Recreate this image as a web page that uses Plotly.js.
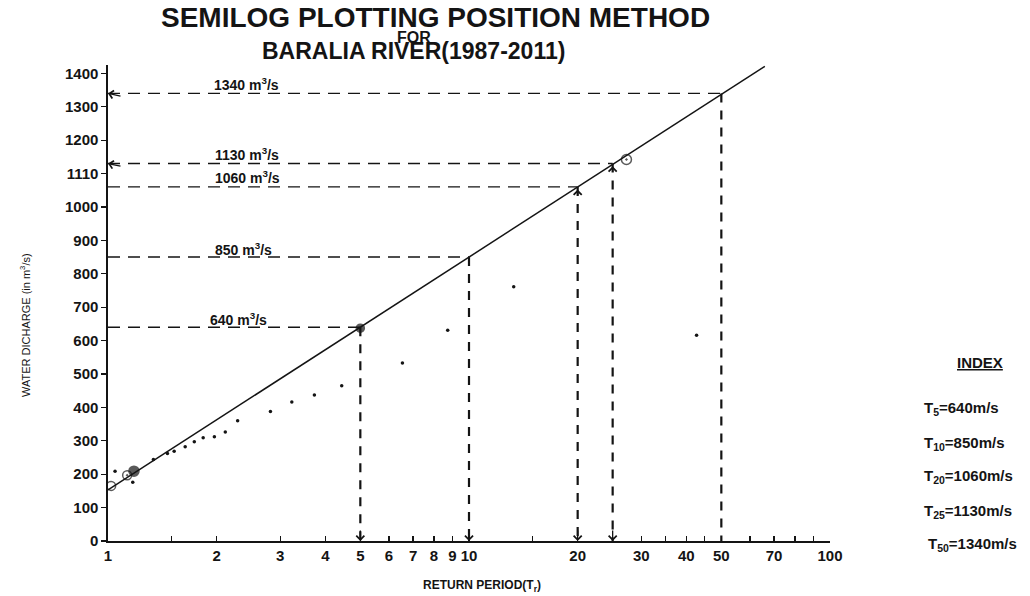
<!DOCTYPE html>
<html>
<head>
<meta charset="utf-8">
<script src="https://cdn.plot.ly/plotly-3.0.1.min.js"></script>
<style>html,body{margin:0;padding:0;background:#fff;}#chart{width:1030px;height:596px;}</style>
</head>
<body>
<div id="chart"></div>
<script>
// ---- data ----
const returnPeriods = [5, 10, 20, 25, 50];            // T (years)
const discharges    = [640, 850, 1060, 1130, 1340];   // Q (m3/s)
const fitX = [1, 66];                                  // fitted semilog line
const fitY = [153, 1421];
const markX = [1.02, 1.13, 1.18, 5, 27.3];             // ringed / marked points
const markY = [165, 197, 209, 637, 1142];
const obsX = [1.046, 1.171, 1.336, 1.461, 1.525, 1.636, 1.734, 1.835, 1.971, 2.113, 2.286, 2.818, 3.23, 3.73, 4.44, 6.54, 8.73, 13.3, 42.7];
const obsY = [209, 176, 244, 262, 269, 282, 297, 309, 312, 326, 360, 388, 416, 437, 465, 533, 631, 761, 616];
const yTickVals = [0,100,200,300,400,500,600,700,800,900,1000,1100,1200,1300,1400];
const yTickText = ["0","100","200","300","400","500","600","700","800","900","1000","1110","1200","1300","1400"];
const xTickVals = [1,1.5,2,3,4,5,6,7,8,9,10,15,20,30,35,40,45,50,60,70,80,90,100];
const xTickText = ["1","","2","3","4","5","6","7","8","9","10","","20","30","","40","","50","","70","","","100"];
const labelTexts = ["640 m<sup>3</sup>/s","850 m<sup>3</sup>/s","1060 m<sup>3</sup>/s","1130 m<sup>3</sup>/s","1340 m<sup>3</sup>/s"];
const indexTexts = ["T<sub>5</sub>=640m/s","T<sub>10</sub>=850m/s","T<sub>20</sub>=1060m/s","T<sub>25</sub>=1130m/s","T<sub>50</sub>=1340m/s"];

// ---- layout geometry ----
const W = 1030, H = 596;
const M = {l:108, r:200, t:65, b:55};
const pw = W - M.l - M.r, ph = H - M.t - M.b;
const px2x = p => (p - M.l) / pw;
const py2y = p => (H - M.b - p) / ph;
const FONT = "Liberation Sans, Arial, sans-serif";
const INK = "#141414";

// dashed guide lines built from data
const hx = [], hy = [], vx = [], vy = [];
returnPeriods.forEach((t, i) => {
  hx.push(1, t, null); hy.push(discharges[i], discharges[i], null);
  vx.push(t, t, null); vy.push(discharges[i], 0, null);
});

const traces = [
  {x: hx, y: hy, mode: 'lines', line: {color: INK, width: 1.4, dash: '12px,8px'}, hoverinfo: 'skip'},
  {x: vx, y: vy, mode: 'lines', line: {color: INK, width: 2.2, dash: '9px,8px'}, hoverinfo: 'skip'},
  {x: fitX, y: fitY, mode: 'lines', line: {color: INK, width: 1.5}},
  {x: obsX, y: obsY, mode: 'markers', marker: {color: INK, size: 3.5, symbol: 'circle'}},
  {x: markX, y: markY, mode: 'markers',
   marker: {color: INK, size: [9, 9, 10, 8, 10],
            symbol: ['circle-open', 'circle-open-dot', 'circle', 'circle', 'circle-open-dot'],
            line: {color: INK, width: 1.5}}}
];

const ann = [];
// titles
ann.push({xref:'paper', yref:'paper', x: px2x(435), y: py2y(18), text: '<b>SEMILOG PLOTTING POSITION METHOD</b>', showarrow:false, font:{family:FONT, size:28, color:INK}, xanchor:'center', yanchor:'middle'});
ann.push({xref:'paper', yref:'paper', x: px2x(414), y: py2y(38), text: '<b>FOR</b>', showarrow:false, font:{family:FONT, size:16, color:INK}, xanchor:'center', yanchor:'middle'});
ann.push({xref:'paper', yref:'paper', x: px2x(413), y: py2y(51), text: '<b>BARALIA RIVER(1987-2011)</b>', showarrow:false, font:{family:FONT, size:23, color:INK}, xanchor:'center', yanchor:'middle'});
// axis titles
ann.push({xref:'paper', yref:'paper', x: px2x(25), y: py2y(325), text: 'WATER DICHARGE (in m<sup>3</sup>/s)', textangle:-90, showarrow:false, font:{family:FONT, size:11, color:INK}, xanchor:'center', yanchor:'middle'});
ann.push({xref:'paper', yref:'paper', x: px2x(482), y: py2y(586), text: '<b>RETURN PERIOD(T<sub>r</sub>)</b>', showarrow:false, font:{family:FONT, size:12, color:INK}, xanchor:'center', yanchor:'middle'});
// value labels above the horizontal guides
const labelPos = [[208,319],[213,249],[213,177],[213,154],[212,84]];
labelTexts.forEach((t, i) => {
  ann.push({xref:'paper', yref:'paper', x: px2x(labelPos[i][0]), y: py2y(labelPos[i][1]), text: '<b>' + t + '</b>', showarrow:false, font:{family:FONT, size:14, color:INK}, xanchor:'left', yanchor:'middle'});
});
// index block
ann.push({xref:'paper', yref:'paper', x: px2x(980), y: py2y(362), text: '<b><u>INDEX</u></b>', showarrow:false, font:{family:FONT, size:15, color:INK}, xanchor:'center', yanchor:'middle'});
const indexPos = [[922,408],[922,443],[922,476],[922,511],[926,544]];
indexTexts.forEach((t, i) => {
  ann.push({xref:'paper', yref:'paper', x: px2x(indexPos[i][0]), y: py2y(indexPos[i][1]), text: '<b>' + t + '</b>', showarrow:false, font:{family:FONT, size:15, color:INK}, xanchor:'left', yanchor:'middle'});
});
// arrow heads
const arrowBase = {xref:'x', yref:'y', text:'', showarrow:true, arrowhead:4, arrowsize:1.2, arrowwidth:1.3, arrowcolor:INK};
[3, 4].forEach(i => ann.push(Object.assign({}, arrowBase, {x: 0, y: discharges[i], ax: 14, ay: 3})));
[0, 1, 2, 3].forEach(i => ann.push(Object.assign({}, arrowBase, {x: Math.log10(returnPeriods[i]), y: 0, ax: 0, ay: -12})));
[2, 3].forEach(i => ann.push(Object.assign({}, arrowBase, {x: Math.log10(returnPeriods[i]), y: discharges[i] - 8, ax: 0, ay: 7})));

const layout = {
  width: W, height: H,
  margin: M,
  paper_bgcolor: '#fff', plot_bgcolor: '#fff',
  showlegend: false,
  font: {family: FONT, color: INK},
  xaxis: {
    type: 'log', range: [0, 2],
    tickvals: xTickVals, ticktext: xTickText,
    ticks: 'inside', ticklen: 5, tickwidth: 1.3, tickcolor: INK,
    showline: true, linecolor: INK, linewidth: 1.6,
    showgrid: false, zeroline: false,
    tickfont: {family: FONT, size: 15, color: INK, weight: 'bold'}
  },
  yaxis: {
    range: [0, 1425],
    tickvals: yTickVals, ticktext: yTickText,
    ticks: 'outside', ticklen: 5, tickwidth: 1.3, tickcolor: INK,
    showline: true, linecolor: INK, linewidth: 1.6,
    showgrid: false, zeroline: false,
    tickfont: {family: FONT, size: 15, color: INK, weight: 'bold'}
  },
  annotations: ann
};

Plotly.newPlot('chart', traces, layout, {staticPlot: true, displayModeBar: false});
</script>
</body>
</html>
